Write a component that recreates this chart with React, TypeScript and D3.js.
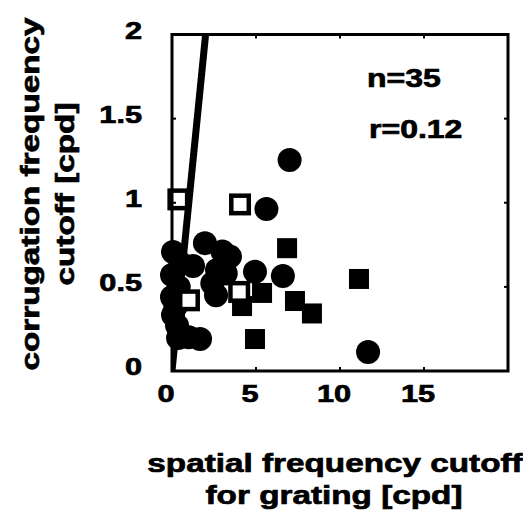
import React from 'react';
import * as d3 from 'd3';

// filled circles
const circleXs = [7.0, 5.62, 11.67, 0.06, 0.0, 0.0, 0.06, 0.36, 1.67, 1.96, 3.45, 1.25, 2.68, 2.62, 4.94, 6.6, 3.0, 0.5, 0.4, 0.2, 1.0, 2.4, 3.2, 0.3];
const circleYs = [1.254, 0.963, 0.113, 0.707, 0.57, 0.44, 0.333, 0.196, 0.19, 0.76, 0.68, 0.624, 0.6, 0.45, 0.59, 0.565, 0.71, 0.64, 0.5, 0.38, 0.2, 0.52, 0.58, 0.27];
// filled squares
const squareXs = [6.85, 7.32, 8.33, 11.13, 4.94, 4.17, 5.36];
const squareYs = [0.73, 0.416, 0.342, 0.547, 0.19, 0.386, 0.464];
// open squares
const openXs = [0.38, 4.05, 1.01, 4.0];
const openYs = [1.02, 0.99, 0.42, 0.47];
// identity line
const lineXs = [0, 2];
const lineYs = [0, 2];

const xTicks = [0, 5, 10, 15];
const xTickLabels = ['0', '5', '10', '15'];
const yTicks = [0, 0.5, 1, 1.5, 2];
const yTickLabels = ['0', '0.5', '1', '1.5', '2'];
const innerXTicks = [5, 10, 15];
const innerYTicks = [0.5, 1, 1.5];

const xLabel = ['spatial frequency cutoff', 'for grating [cpd]'];
const yLabel = ['corrugation frequency', 'cutoff [cpd]'];
const annotations = ['n=35', 'r=0.12'];

const FONT = '"Liberation Sans", Arial, Helvetica, sans-serif';
const SX = 1.28;

function SText(props: { x: number; y: number; anchor?: string; size: number; rotate?: number; children: any }) {
  const { x, y, anchor = 'start', size, rotate = 0, children } = props;
  return (
    <g transform={`translate(${x},${y}) rotate(${rotate}) scale(${SX},1)`}>
      <text x={0} y={0} textAnchor={anchor} fontSize={size} fontWeight="bold" fontFamily={FONT} fill="#000" stroke="#000" strokeWidth={0.7}>
        {children}
      </text>
    </g>
  );
}

export default function App() {
  const L = 172, R = 508, T = 34.5, B = 371;
  const x = d3.scaleLinear().domain([0, 20]).range([L, R]);
  const y = d3.scaleLinear().domain([0, 2]).range([B, T]);
  const line = d3.line<number>().x((_, i) => x(lineXs[i])).y((_, i) => y(lineYs[i]));
  const r = 12;
  const sq = 20;
  const osq = 17.5;

  return (
    <svg width={523} height={517} style={{ position: 'absolute', left: 0, top: 0, background: '#fff' }}>
      <defs>
        <clipPath id="plotClip">
          <rect x={L} y={T} width={R - L} height={B - T} />
        </clipPath>
      </defs>
      <rect x={0} y={0} width={523} height={517} fill="#fff" />
      <g clipPath="url(#plotClip)">
        <path d={line(lineXs) || ''} stroke="#000" strokeWidth={7} fill="none" />
      </g>
      {circleXs.map((cx, i) => (
        <circle key={'c' + i} cx={x(cx)} cy={y(circleYs[i])} r={r} fill="#000" />
      ))}
      {squareXs.map((sx, i) => (
        <rect key={'s' + i} x={x(sx) - sq / 2} y={y(squareYs[i]) - sq / 2} width={sq} height={sq} fill="#000" />
      ))}
      {openXs.map((ox, i) => (
        <rect key={'o' + i} x={x(ox) - osq / 2} y={y(openYs[i]) - osq / 2} width={osq} height={osq} fill="#fff" stroke="#000" strokeWidth={4.5} />
      ))}
      {/* frame */}
      <rect x={L} y={T} width={R - L} height={B - T} fill="none" stroke="#000" strokeWidth={3} />
      {/* inward ticks */}
      {innerXTicks.map((t) => (
        <g key={'xt' + t}>
          <line x1={x(t)} x2={x(t)} y1={B} y2={B - 4} stroke="#000" strokeWidth={2} />
          <line x1={x(t)} x2={x(t)} y1={T} y2={T + 4} stroke="#000" strokeWidth={2} />
        </g>
      ))}
      {innerYTicks.map((t) => (
        <g key={'yt' + t}>
          <line x1={L} x2={L + 4} y1={y(t)} y2={y(t)} stroke="#000" strokeWidth={2} />
          <line x1={R} x2={R - 4} y1={y(t)} y2={y(t)} stroke="#000" strokeWidth={2} />
        </g>
      ))}
      {/* tick labels */}
      {xTicks.map((t, i) => (
        <SText key={'xl' + t} x={x(t) - 6} y={402} anchor="middle" size={24}>
          {xTickLabels[i]}
        </SText>
      ))}
      {yTicks.map((t, i) => (
        <SText key={'yl' + t} x={142} y={y(t) + 4} anchor="end" size={24}>
          {yTickLabels[i]}
        </SText>
      ))}
      {/* axis labels */}
      <SText x={335} y={472} anchor="middle" size={26}>{xLabel[0]}</SText>
      <SText x={334} y={504} anchor="middle" size={26}>{xLabel[1]}</SText>
      <SText x={39} y={194} anchor="middle" size={26} rotate={-90}>{yLabel[0]}</SText>
      <SText x={74} y={194} anchor="middle" size={26} rotate={-90}>{yLabel[1]}</SText>
      {/* annotations */}
      <SText x={367} y={87} size={25}>{annotations[0]}</SText>
      <SText x={369} y={138} size={25}>{annotations[1]}</SText>
    </svg>
  );
}
